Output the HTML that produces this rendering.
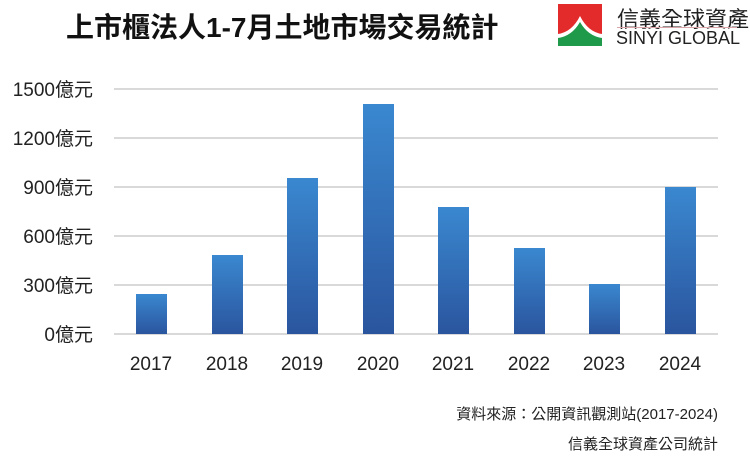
<!DOCTYPE html>
<html><head><meta charset="utf-8"><style>
body{margin:0;width:750px;height:465px;background:#fff;position:relative;overflow:hidden;font-family:"Liberation Sans","Noto Sans CJK TC",sans-serif}
.t{position:absolute;white-space:nowrap}
</style></head><body>
<div class="t" style="left:66px;top:6px;font-size:28px;font-weight:bold;color:#111">上市櫃法人1-7月土地市場交易統計</div>
<svg style="position:absolute;left:558px;top:4px" width="44" height="42" viewBox="0 0 44 42">
<rect width="44" height="42" fill="#e32b2b"/>
<path d="M0 42 L0 30 Q14 28 22 12 Q30 28 44 30 L44 42Z" fill="#fff"/>
<path d="M0 42 L0 34 Q14 32 22 18 Q30 32 44 34 L44 42Z" fill="#1e9a4a"/>
</svg>
<div class="t" style="left:617px;top:2px;font-size:22px;color:#222">信義全球資產</div>
<div style="position:absolute;left:617px;top:27px;width:120px;height:1px;background:#d9a5a8"></div>
<div class="t" style="left:616px;top:28px;font-size:18px;color:#222">SINYI GLOBAL</div>
<svg style="position:absolute;left:0;top:0" width="750" height="465">
<g stroke="#d9d9d9" stroke-width="2">
<line x1="114" x2="718" y1="89" y2="89"/><line x1="114" x2="718" y1="138" y2="138"/>
<line x1="114" x2="718" y1="187" y2="187"/><line x1="114" x2="718" y1="236" y2="236"/>
<line x1="114" x2="718" y1="285" y2="285"/><line x1="114" x2="718" y1="334" y2="334"/>
</g>
<defs><linearGradient id="g" x1="0" y1="0" x2="0" y2="1"><stop offset="0" stop-color="#3a88d0"/><stop offset="1" stop-color="#2a559e"/></linearGradient></defs>
<g fill="url(#g)">
<rect x="136" y="294" width="31" height="40"/>
<rect x="212" y="255" width="31" height="79"/>
<rect x="287" y="178" width="31" height="156"/>
<rect x="363" y="104" width="31" height="230"/>
<rect x="438" y="207" width="31" height="127"/>
<rect x="514" y="248" width="31" height="86"/>
<rect x="589" y="284" width="31" height="50"/>
<rect x="665" y="187" width="31" height="147"/>
</g>
<g font-size="19" fill="#222" text-anchor="end" font-family="Liberation Sans,Noto Sans CJK TC,sans-serif">
<text x="93" y="96">1500億元</text><text x="93" y="145">1200億元</text><text x="93" y="194">900億元</text>
<text x="93" y="243">600億元</text><text x="93" y="292">300億元</text><text x="93" y="341">0億元</text>
</g>
<g font-size="19" fill="#222" text-anchor="middle" font-family="Liberation Sans,sans-serif">
<text x="151" y="370">2017</text><text x="227" y="370">2018</text><text x="302" y="370">2019</text><text x="378" y="370">2020</text>
<text x="453" y="370">2021</text><text x="529" y="370">2022</text><text x="604" y="370">2023</text><text x="680" y="370">2024</text>
</g>
<g font-size="15" fill="#222" text-anchor="end" font-family="Liberation Sans,Noto Sans CJK TC,sans-serif">
<text x="718" y="419">資料來源：公開資訊觀測站(2017-2024)</text>
<text x="718" y="449">信義全球資產公司統計</text>
</g>
</svg>
</body></html>
